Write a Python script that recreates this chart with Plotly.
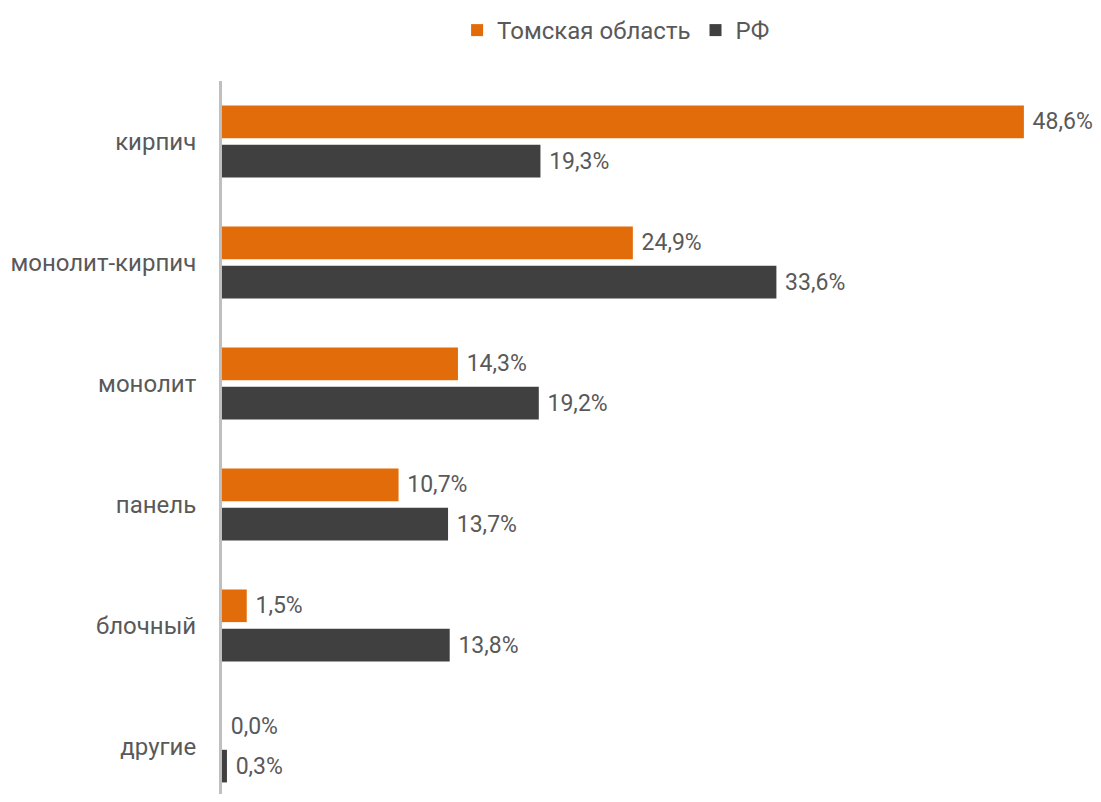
import plotly.graph_objects as go

categories = ["кирпич", "монолит-кирпич", "монолит", "панель", "блочный", "другие"]
tomsk = [48.6, 24.9, 14.3, 10.7, 1.5, 0.0]
rf = [19.3, 33.6, 19.2, 13.7, 13.8, 0.3]
series_names = ["Томская область", "РФ"]

ORANGE = "#E36C0A"
DARK = "#404040"
TXT = "#595959"
FONT = "Roboto"

fig = go.Figure()
for name, vals, col in [(series_names[0], tomsk, ORANGE), (series_names[1], rf, DARK)]:
    fig.add_trace(go.Bar(
        y=categories, x=vals, orientation="h", name=name,
        marker=dict(color=col, line=dict(width=0)),
        texttemplate="\u00a0%{x:.1f}%", textposition="outside",
        textfont=dict(family=FONT, size=23, color=TXT),
        cliponaxis=False,
    ))

# page body has an 8px default margin: keep the figure inside the window
fig.update_layout(
    width=1085, height=786,
    margin=dict(l=214, r=13, t=67, b=0),
    paper_bgcolor="white", plot_bgcolor="white",
    barmode="group", bargap=0.35, bargroupgap=0.17,
    separators=", ",
    font=dict(family=FONT, size=24, color=TXT),
    legend=dict(orientation="h", x=0.274, xanchor="left", y=1.0712, yanchor="middle",
                font=dict(family=FONT, size=24, color=TXT), itemwidth=30,
                traceorder="normal"),
    xaxis=dict(range=[0, 52], showgrid=False, zeroline=False, showticklabels=False,
               showline=False),
    yaxis=dict(categoryorder="array", categoryarray=categories,
               range=[5.393, -0.5], showgrid=False, zeroline=False,
               showline=True, linecolor="#BFBFBF", linewidth=3,
               ticks="", ticklabelstandoff=18,
               tickfont=dict(family=FONT, size=24, color=TXT)),
)

fig.write_html("out.html")
